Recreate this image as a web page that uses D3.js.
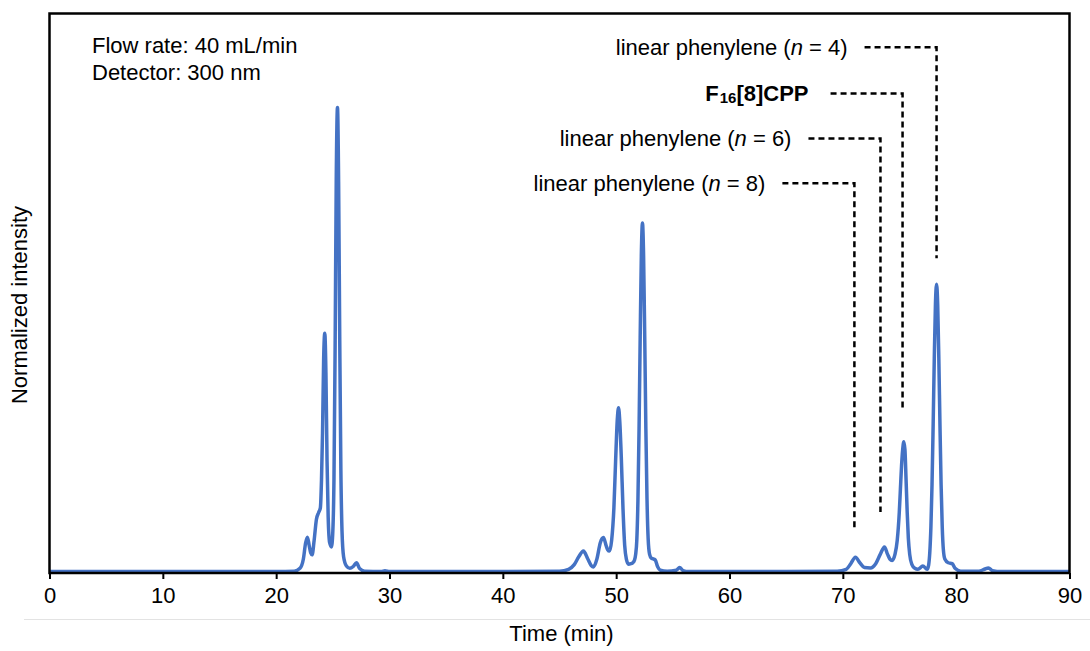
<!DOCTYPE html>
<html>
<head>
<meta charset="utf-8">
<script src="https://cdn.jsdelivr.net/npm/d3@7"></script>
<style>
    body { margin: 0; background: #fff; }
    svg { display: block; font-family: "Liberation Sans", Arial, Helvetica, sans-serif; }
</style>
</head>
<body>
<div id="chart"></div>
<script>
// Chromatogram trace (time in min, normalized intensity)
const times = [
    0, 10, 20, 21.6, 22.1, 22.4, 22.6, 22.76, 22.92, 23.05, 23.17, 23.35, 23.55, 23.75, 23.9,
    24.0, 24.09, 24.19, 24.29, 24.39, 24.49, 24.59, 24.72, 24.88, 25.0, 25.1, 25.2, 25.3, 25.41,
    25.51, 25.61, 25.71, 25.81, 25.95, 26.2, 26.5, 26.8, 27.09, 27.35, 27.8, 29.3, 29.6, 30, 35, 40,
    45, 45.8, 46.3, 46.7, 47.11, 47.5, 47.8, 48.0, 48.3, 48.6, 48.88, 49.1, 49.25, 49.41, 49.6, 49.8,
    49.95, 50.1, 50.21, 50.32, 50.45, 50.6, 50.75, 50.9, 51.09, 51.3, 51.47, 51.62, 51.72, 51.82,
    51.92, 52.02, 52.12, 52.22, 52.32, 52.42, 52.52, 52.62, 52.72, 52.82, 52.95, 53.1, 53.3, 53.45,
    53.65, 53.9, 54.5, 55.3, 55.6, 55.9, 56.4, 60, 65, 69.5,
    70.3, 70.7, 71.11, 71.5, 71.9, 72.44, 72.9, 73.3, 73.67, 73.95, 74.15, 74.35, 74.6, 74.8, 74.98,
    75.08, 75.18, 75.28, 75.38, 75.48, 75.58, 75.68, 75.78, 75.9, 76.1, 76.35, 76.62, 77.06, 77.44,
    77.57, 77.67, 77.77, 77.87, 77.97, 78.07, 78.17, 78.27, 78.37, 78.47, 78.57, 78.67, 78.77, 78.87,
    79.0, 79.3, 79.65, 79.9, 80.4, 82.0, 82.5, 82.85, 83.2, 84, 90
];
const intensity = [
    0.003, 0.003, 0.003, 0.004, 0.01, 0.03, 0.065, 0.077, 0.058, 0.043, 0.039, 0.07, 0.115, 0.13, 0.14,
    0.2, 0.3, 0.46, 0.515, 0.43, 0.24, 0.12, 0.065, 0.056, 0.09, 0.2, 0.48, 0.84, 1.0,
    0.84, 0.5, 0.22, 0.09, 0.035, 0.015, 0.01, 0.014, 0.022, 0.01, 0.004, 0.003, 0.005, 0.003, 0.003, 0.003,
    0.004, 0.008, 0.018, 0.035, 0.047, 0.03, 0.016, 0.013, 0.03, 0.065, 0.076, 0.06, 0.05, 0.047, 0.07, 0.14,
    0.24, 0.33, 0.355, 0.325, 0.25, 0.14, 0.06, 0.03, 0.019, 0.02, 0.022, 0.028, 0.04, 0.07,
    0.155, 0.31, 0.507, 0.681, 0.752, 0.681, 0.507, 0.31, 0.16, 0.075, 0.04, 0.032, 0.03, 0.028,
    0.014, 0.006, 0.004, 0.006, 0.012, 0.005, 0.003, 0.003, 0.003, 0.004,
    0.008, 0.02, 0.034, 0.022, 0.012, 0.011, 0.02, 0.04, 0.056, 0.04, 0.03, 0.027, 0.04, 0.07, 0.13,
    0.18, 0.23, 0.265, 0.282, 0.265, 0.2, 0.13, 0.075, 0.04, 0.018, 0.01, 0.008, 0.015, 0.008,
    0.017, 0.043, 0.098, 0.19, 0.319, 0.461, 0.576, 0.62, 0.576, 0.461, 0.319, 0.19, 0.1, 0.05,
    0.03, 0.022, 0.02, 0.01, 0.004, 0.004, 0.008, 0.011, 0.005, 0.003, 0.003
];

const xTicks = [0, 10, 20, 30, 40, 50, 60, 70, 80, 90];

// Peak annotations
const annotNames = ['n4', 'cpp', 'n6', 'n8'];
const annotTimes = [78.27, 75.27, 73.32, 71.02];
const annotLevels = [1.129, 1.030, 0.933, 0.837];
const annotEnds = [0.676, 0.350, 0.131, 0.092];

const infoLines = ['Flow rate: 40 mL/min', 'Detector: 300 nm'];

const width = 1090;
const height = 651;
const margin = { top: 13.5, right: 20.5, bottom: 78, left: 49.5 };
const fontSize = 22;

const svg = d3.select('#chart')
    .append('svg')
    .attr('width', width)
    .attr('height', height);

// Scales
const x = d3.scaleLinear()
    .domain([0, 90])
    .range([margin.left, width - margin.right]);

const y = d3.scaleLinear()
    .domain([0, 1.2017])
    .range([height - margin.bottom, margin.top]);

// Faint separator under the axis
svg.append('line')
    .attr('x1', 24).attr('x2', width)
    .attr('y1', 619.5).attr('y2', 619.5)
    .attr('stroke', '#e3e3e3')
    .attr('stroke-width', 1);

// X axis
const xAxis = svg.append('g')
    .attr('class', 'x-axis')
    .attr('transform', `translate(0,${y(0)})`)
    .call(d3.axisBottom(x).tickValues(xTicks).tickSize(6).tickSizeOuter(0).tickPadding(8));

xAxis.select('.domain').remove();
xAxis.selectAll('line')
    .attr('stroke', '#000')
    .attr('stroke-width', 2);
xAxis.selectAll('text')
    .attr('font-size', fontSize)
    .attr('fill', '#000')
    .style('font-family', '"Liberation Sans", Arial, Helvetica, sans-serif');

// Trace
const line = d3.line()
    .x((d, i) => x(times[i]))
    .y(d => y(d))
    .curve(d3.curveMonotoneX);

svg.append('path')
    .datum(intensity)
    .attr('fill', 'none')
    .attr('stroke', '#4472C4')
    .attr('stroke-width', 3.5)
    .attr('stroke-linejoin', 'round')
    .attr('d', line);

// Frame
svg.append('rect')
    .attr('x', x(0))
    .attr('y', y.range()[1])
    .attr('width', x(90) - x(0))
    .attr('height', y(0) - y.range()[1])
    .attr('fill', 'none')
    .attr('stroke', '#000')
    .attr('stroke-width', 2.5);

// Axis titles
svg.append('text')
    .attr('x', (x(0) + x(90)) / 2 + 2)
    .attr('y', 641)
    .attr('text-anchor', 'middle')
    .attr('font-size', fontSize)
    .text('Time (min)');

svg.append('text')
    .attr('transform', 'translate(26.5,305) rotate(-90)')
    .attr('text-anchor', 'middle')
    .attr('font-size', fontSize)
    .text('Normalized intensity');

// Run conditions
svg.append('g')
    .selectAll('text')
    .data(infoLines)
    .join('text')
    .attr('x', 92)
    .attr('y', (d, i) => 53 + i * 27)
    .attr('font-size', fontSize)
    .text(d => d);

// Peak labels with dotted leaders
const dashLen = 72;
const annot = svg.append('g').attr('class', 'annotations');

annotNames.forEach((name, i) => {
    const lx = x(annotTimes[i]);
    const ly = y(annotLevels[i]);

    annot.append('path')
        .attr('d', `M${lx - dashLen},${ly}H${lx}V${y(annotEnds[i])}`)
        .attr('fill', 'none')
        .attr('stroke', '#000')
        .attr('stroke-width', 2.5)
        .attr('stroke-dasharray', '6,4');

    const label = annot.append('text')
        .attr('x', lx - dashLen - (name === 'cpp' ? 22 : 17))
        .attr('y', ly + 7.5)
        .attr('text-anchor', 'end')
        .attr('font-size', fontSize);

    if (name === 'cpp') {
        label.attr('font-weight', 'bold');
        label.append('tspan').text('F');
        label.append('tspan').attr('font-size', 15).attr('dx', 1).attr('dy', 2).text('16');
        label.append('tspan').attr('dy', -2).text('[8]CPP');
    } else {
        const n = name.slice(1);
        label.append('tspan').text('linear phenylene (');
        label.append('tspan').attr('font-style', 'italic').text('n');
        label.append('tspan').text(` = ${n})`);
    }
});
</script>
</body>
</html>
